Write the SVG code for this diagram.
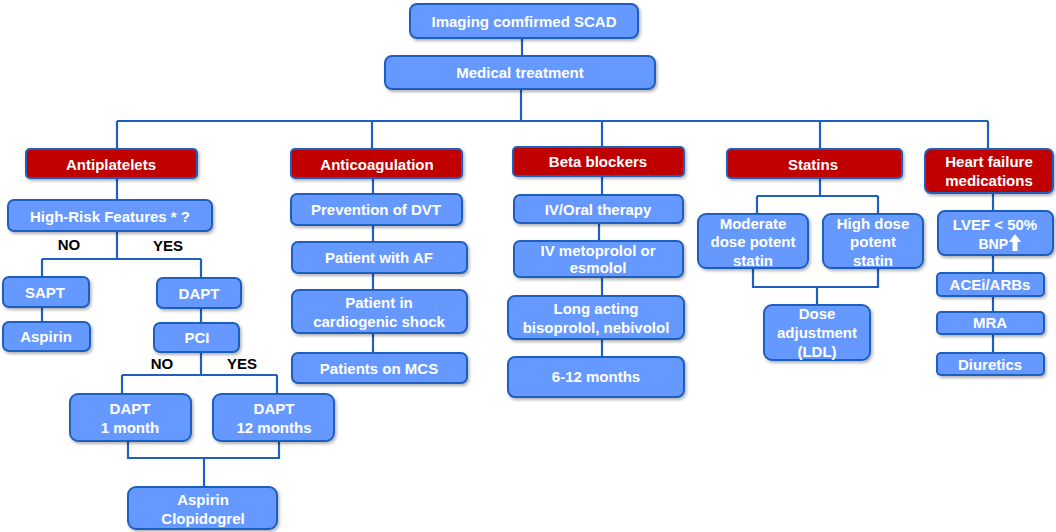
<svg xmlns="http://www.w3.org/2000/svg" width="1056" height="532" viewBox="0 0 1056 532">
<defs>
<filter id="sh" x="-10%" y="-20%" width="125%" height="150%">
<feDropShadow dx="1.5" dy="2" stdDeviation="1.5" flood-color="#000" flood-opacity="0.3"/>
</filter>
<style>
.b{fill:#6699ff;stroke:#1f5fbf;stroke-width:2;filter:url(#sh)}
.r{fill:#c00000;stroke:#1f5fbf;stroke-width:2;filter:url(#sh)}
.t{fill:#fff;font-family:"Liberation Sans",Arial,sans-serif;font-weight:bold;font-size:15px;text-anchor:middle}
.k{fill:#000;font-family:"Liberation Sans",Arial,sans-serif;font-weight:bold;font-size:15px;text-anchor:middle}
.c{fill:none;stroke:#1f5fbf;stroke-width:2.2}
</style>
</defs>
<rect width="1056" height="532" fill="#fff"/>
<g id="connectors">
<path class="c" d="M522 38V56M521 89V121M117 121H988M117 121V149M372 121V149M602 121V147M820 121V149M988 121V149"/>
<path class="c" d="M117 178V200M117 231V259M42 259H201M42 259V277M201 259V278M42 307V322M201 308V323M201 352V375M122 375H277M122 375V394M277 375V394M128 441V458H279V441M204 458V487"/>
<path class="c" d="M373 178V194M373 225V242M373 273V290M373 333V353"/>
<path class="c" d="M602 175V195M599 223V241M602 277V296M602 339V357"/>
<path class="c" d="M820 178V196M757 196H878M757 196V214M878 196V214M753 268V287H878V268M817 287V305"/>
<path class="c" d="M993 193V211M993 255V273M993 296V312M993 334V353"/>
</g>
<g id="n-imaging"><rect class="b" x="410" y="4" width="228" height="34" rx="7"/><text class="t" x="524" y="27">Imaging comfirmed SCAD</text></g>
<g id="n-medical"><rect class="b" x="385" y="56" width="270" height="33" rx="7"/><text class="t" x="520" y="78">Medical treatment</text></g>
<g id="n-antiplatelets"><rect class="r" x="26" y="149" width="171" height="29" rx="4"/><text class="t" x="111" y="170">Antiplatelets</text></g>
<g id="n-highrisk"><rect class="b" x="8" y="200" width="204" height="31" rx="6"/><text class="t" x="110" y="222">High-Risk Features * ?</text></g>
<g id="l-no1"><text class="k" x="69" y="250">NO</text></g>
<g id="l-yes1"><text class="k" x="168" y="251">YES</text></g>
<g id="n-sapt"><rect class="b" x="3" y="277" width="86" height="30" rx="6"/><text class="t" x="45" y="298">SAPT</text></g>
<g id="n-dapt"><rect class="b" x="157" y="278" width="84" height="30" rx="6"/><text class="t" x="199" y="299">DAPT</text></g>
<g id="n-aspirin"><rect class="b" x="3" y="322" width="87" height="29" rx="6"/><text class="t" x="46" y="342">Aspirin</text></g>
<g id="n-pci"><rect class="b" x="154" y="323" width="85" height="29" rx="6"/><text class="t" x="197" y="343">PCI</text></g>
<g id="l-no2"><text class="k" x="162" y="369">NO</text></g>
<g id="l-yes2"><text class="k" x="242" y="369">YES</text></g>
<g id="n-dapt1"><rect class="b" x="70" y="394" width="121" height="47" rx="8"/><text class="t" x="130" y="414">DAPT</text><text class="t" x="130" y="433">1 month</text></g>
<g id="n-dapt12"><rect class="b" x="213" y="394" width="121" height="47" rx="8"/><text class="t" x="274" y="414">DAPT</text><text class="t" x="274" y="433">12 months</text></g>
<g id="n-aspclop"><rect class="b" x="128" y="487" width="149" height="42" rx="8"/><text class="t" x="203" y="505">Aspirin</text><text class="t" x="203" y="524">Clopidogrel</text></g>
<g id="n-anticoag"><rect class="r" x="291" y="149" width="171" height="29" rx="4"/><text class="t" x="377" y="170">Anticoagulation</text></g>
<g id="n-dvt"><rect class="b" x="291" y="194" width="171" height="31" rx="6"/><text class="t" x="376" y="215">Prevention of DVT</text></g>
<g id="n-af"><rect class="b" x="292" y="242" width="175" height="31" rx="6"/><text class="t" x="379" y="263">Patient with AF</text></g>
<g id="n-shock"><rect class="b" x="292" y="290" width="175" height="43" rx="7"/><text class="t" x="379" y="308">Patient in</text><text class="t" x="379" y="327">cardiogenic shock</text></g>
<g id="n-mcs"><rect class="b" x="292" y="353" width="175" height="30" rx="6"/><text class="t" x="379" y="374">Patients on MCS</text></g>
<g id="n-beta"><rect class="r" x="513" y="147" width="171" height="29" rx="4"/><text class="t" x="598" y="167">Beta blockers</text></g>
<g id="n-ivoral"><rect class="b" x="514" y="195" width="169" height="28" rx="6"/><text class="t" x="598" y="215">IV/Oral therapy</text></g>
<g id="n-ivmeto"><rect class="b" x="514" y="241" width="169" height="36" rx="6"/><text class="t" x="598" y="256">IV metoprolol or</text><text class="t" x="598" y="273">esmolol</text></g>
<g id="n-long"><rect class="b" x="508" y="296" width="176" height="43" rx="7"/><text class="t" x="596" y="314">Long acting</text><text class="t" x="596" y="333">bisoprolol, nebivolol</text></g>
<g id="n-612"><rect class="b" x="508" y="357" width="176" height="40" rx="7"/><text class="t" x="596" y="382">6-12 months</text></g>
<g id="n-statins"><rect class="r" x="727" y="149" width="175" height="29" rx="4"/><text class="t" x="813" y="170">Statins</text></g>
<g id="n-moderate"><rect class="b" x="698" y="214" width="110" height="54" rx="8"/><text class="t" x="753" y="229">Moderate</text><text class="t" x="753" y="247">dose potent</text><text class="t" x="753" y="266">statin</text></g>
<g id="n-highdose"><rect class="b" x="823" y="214" width="100" height="54" rx="8"/><text class="t" x="873" y="229">High dose</text><text class="t" x="873" y="247">potent</text><text class="t" x="873" y="266">statin</text></g>
<g id="n-doseadj"><rect class="b" x="764" y="305" width="106" height="55" rx="8"/><text class="t" x="817" y="319">Dose</text><text class="t" x="817" y="338">adjustment</text><text class="t" x="817" y="357">(LDL)</text></g>
<g id="n-hf"><rect class="r" x="925" y="149" width="128" height="44" rx="6"/><text class="t" x="989" y="167">Heart failure</text><text class="t" x="989" y="186">medications</text></g>
<g id="n-lvef"><rect class="b" x="938" y="211" width="115" height="44" rx="7"/><text class="t" x="995" y="230">LVEF &lt; 50%</text><text class="t" x="1008" y="249" style="text-anchor:end;font-size:14px">BNP</text><path d="M1015 234l-6 8h3.5v9h5v-9h3.5z" fill="#fff"/></g>
<g id="n-acei"><rect class="b" x="937" y="273" width="107" height="23" rx="4"/><text class="t" x="990" y="290">ACEi/ARBs</text></g>
<g id="n-mra"><rect class="b" x="937" y="312" width="107" height="22" rx="4"/><text class="t" x="990" y="328">MRA</text></g>
<g id="n-diuretics"><rect class="b" x="937" y="353" width="107" height="22" rx="4"/><text class="t" x="990" y="370">Diuretics</text></g>
</svg>
